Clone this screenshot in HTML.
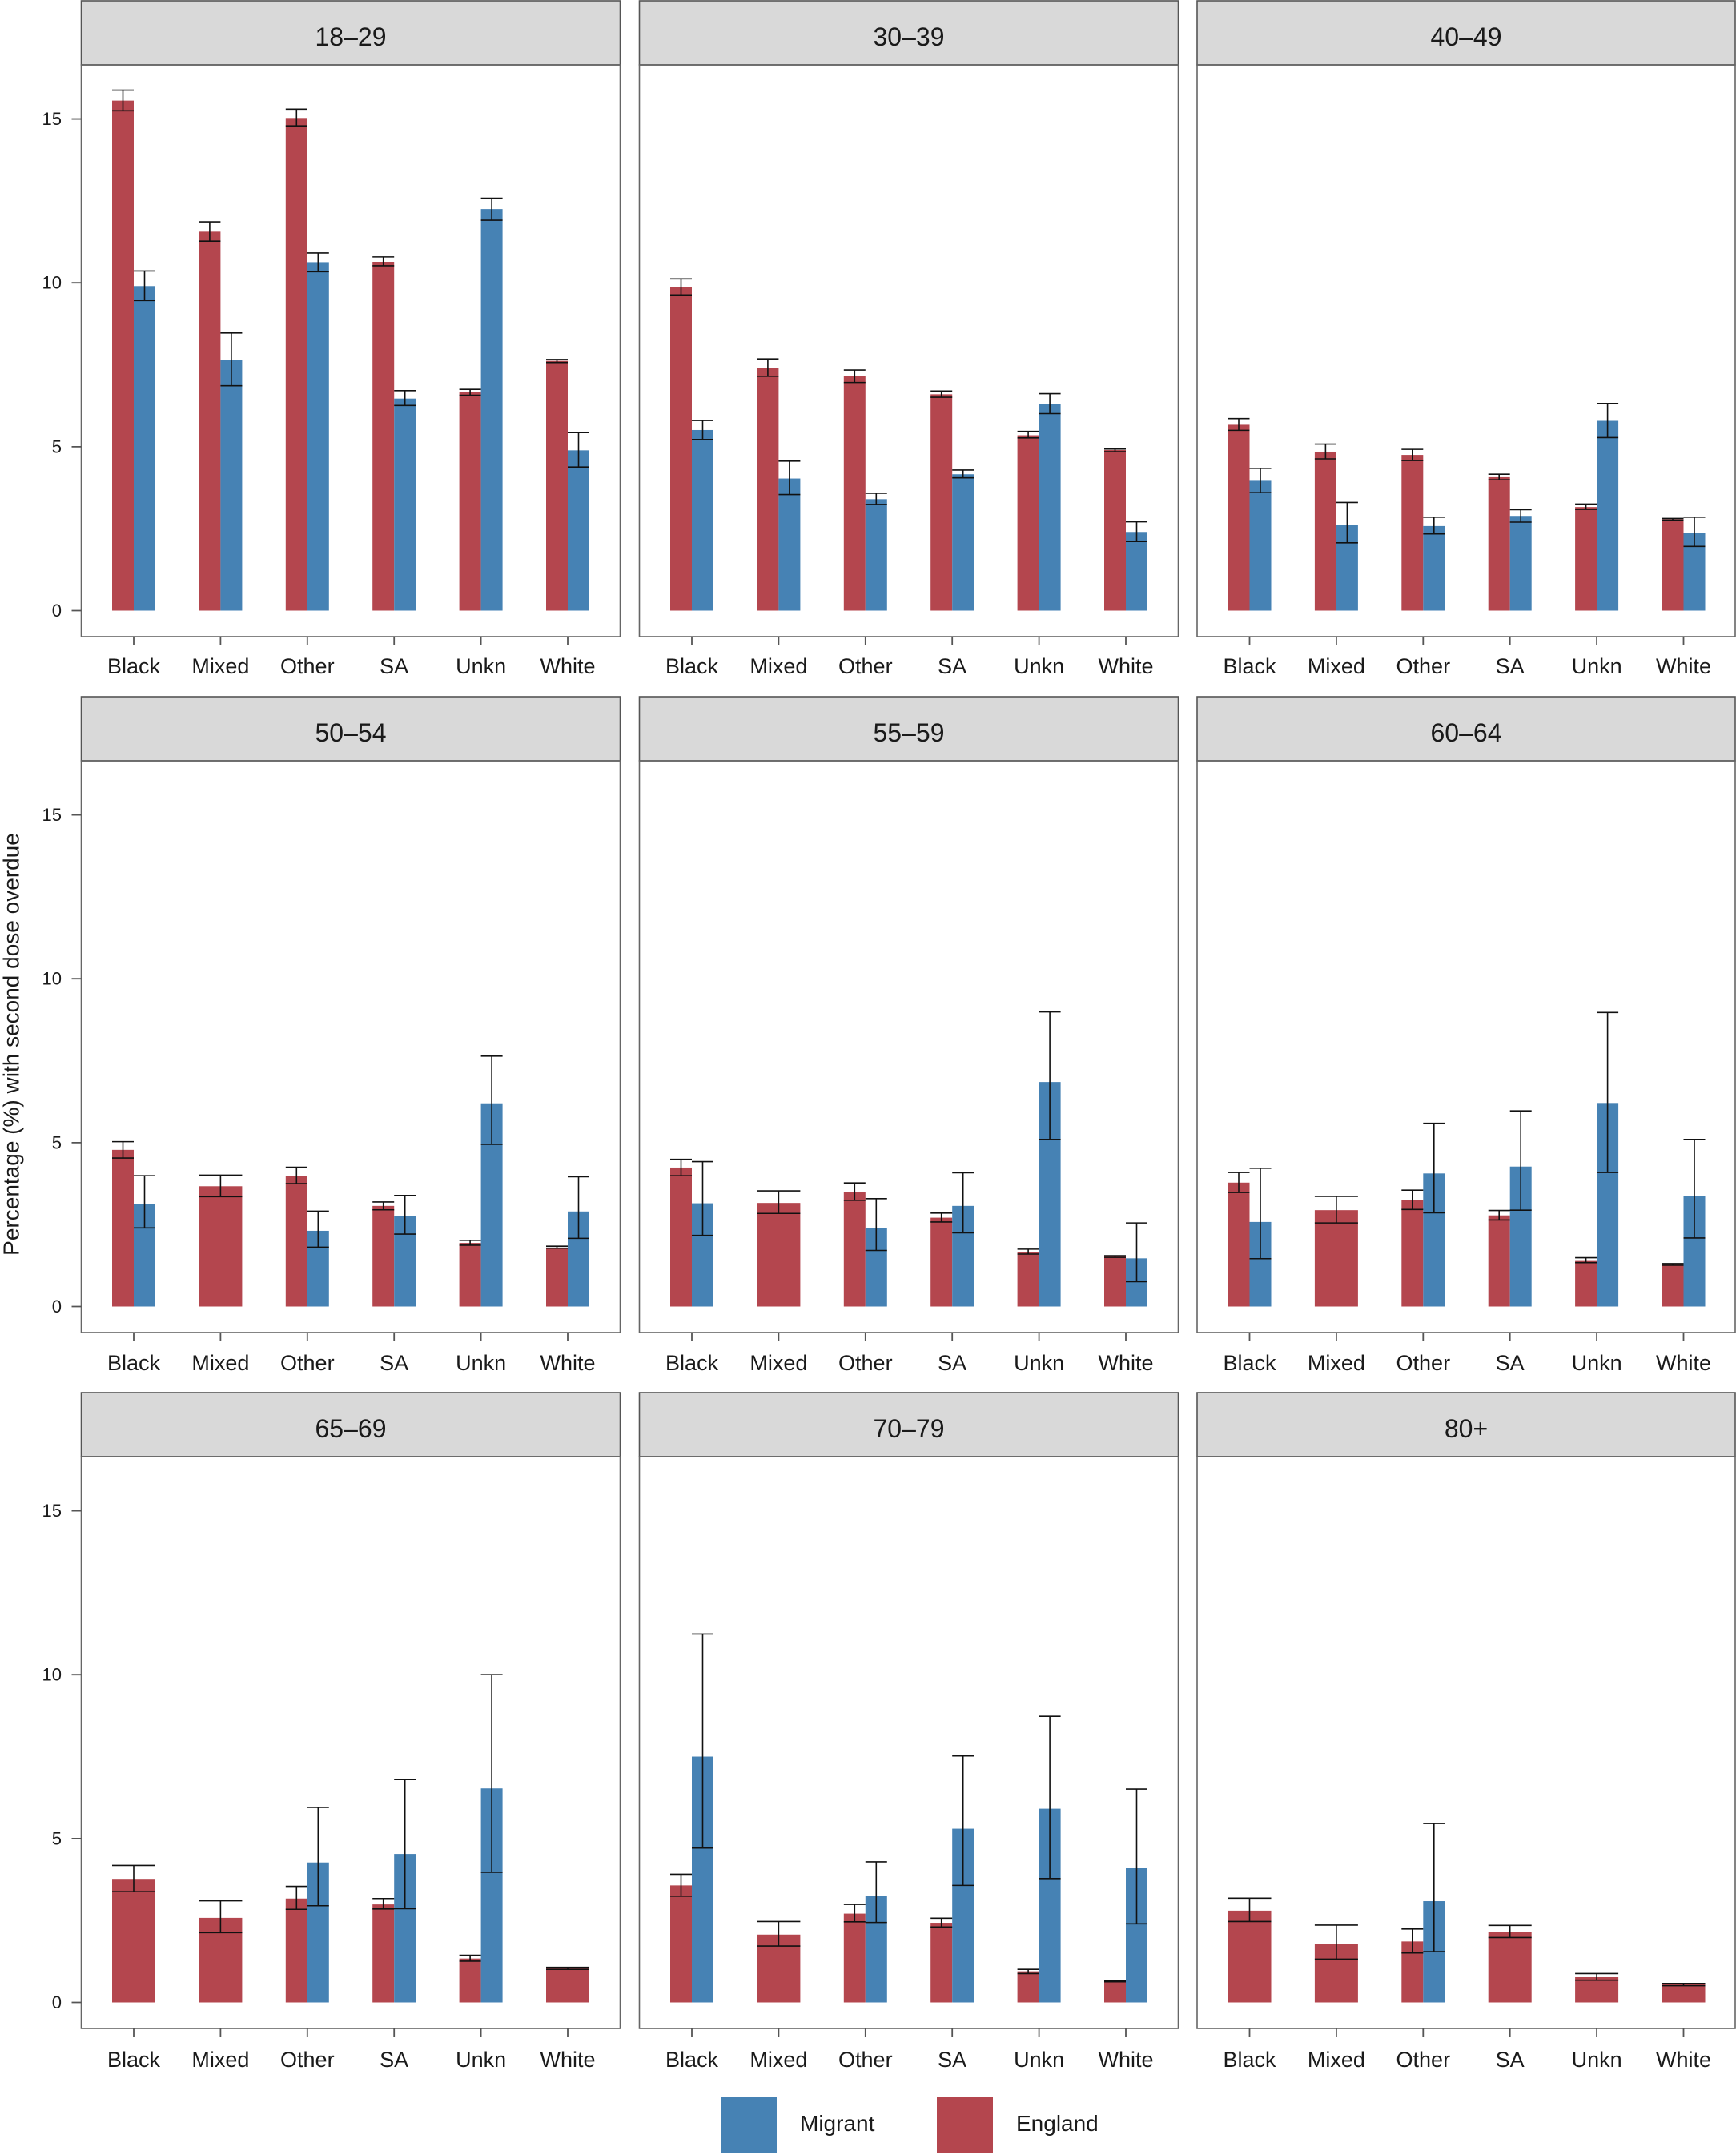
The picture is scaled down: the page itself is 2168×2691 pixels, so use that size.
<!DOCTYPE html>
<html><head><meta charset="utf-8"><style>
html,body{margin:0;padding:0;background:#fff;}
svg{display:block;}
.r{fill:#B4464E;}
.b{fill:#4682B4;}
.e{fill:none;stroke:#111;stroke-width:1.6;vector-effect:non-scaling-stroke;}
.fr{fill:none;stroke:#666;stroke-width:1.6;}
.st{fill:#D9D9D9;stroke:#555;stroke-width:1.6;}
.tk{stroke:#555;stroke-width:1.8;fill:none;}
text{font-family:"Liberation Sans",sans-serif;fill:#1a1a1a;}
.xl{font-size:27px;text-anchor:middle;}
.yl{font-size:22px;text-anchor:end;}
.sl{font-size:32px;text-anchor:middle;}
</style></head><body>
<svg width="2168" height="2691" viewBox="0 0 2168 2691" xmlns="http://www.w3.org/2000/svg">
<rect width="2168" height="2691" fill="#fff"/>

<!-- ===== Row 1 ===== -->
<!-- 18-29 -->
<rect class="st" x="101.5" y="1" width="673" height="80"/>
<text class="sl" x="438" y="57">18–29</text>
<rect class="fr" x="101.5" y="81" width="673" height="714"/>
<g transform="translate(101.5,762.5) scale(1,-40.93)">
<rect class="r" x="38.5" width="27" height="15.56"/>
<rect class="b" x="65.5" width="27" height="9.90"/>
<rect class="r" x="146.9" width="27" height="11.56"/>
<rect class="b" x="173.9" width="27" height="7.64"/>
<rect class="r" x="255.3" width="27" height="15.03"/>
<rect class="b" x="282.3" width="27" height="10.63"/>
<rect class="r" x="363.7" width="27" height="10.64"/>
<rect class="b" x="390.7" width="27" height="6.47"/>
<rect class="r" x="472.1" width="27" height="6.66"/>
<rect class="b" x="499.1" width="27" height="12.25"/>
<rect class="r" x="580.5" width="27" height="7.62"/>
<rect class="b" x="607.5" width="27" height="4.89"/>
<path class="e" d="M38.5 15.25h27M38.5 15.88h27M52 15.25V15.88M65.5 9.46h27M65.5 10.36h27M79 9.46V10.36M146.9 11.27h27M146.9 11.86h27M160.4 11.27V11.86M173.9 6.86h27M173.9 8.47h27M187.4 6.86V8.47M255.3 14.79h27M255.3 15.30h27M268.8 14.79V15.30M282.3 10.34h27M282.3 10.91h27M295.8 10.34V10.91M363.7 10.52h27M363.7 10.79h27M377.2 10.52V10.79M390.7 6.26h27M390.7 6.71h27M404.2 6.26V6.71M472.1 6.57h27M472.1 6.75h27M485.6 6.57V6.75M499.1 11.91h27M499.1 12.58h27M512.6 11.91V12.58M580.5 7.57h27M580.5 7.66h27M594 7.57V7.66M607.5 4.38h27M607.5 5.43h27M621 4.38V5.43"/>
</g>
<g transform="translate(101.5,795)">
<path class="tk" d="M65.5 0v11M173.9 0v11M282.3 0v11M390.7 0v11M499.1 0v11M607.5 0v11"/>
<text class="xl" x="65.5" y="46">Black</text><text class="xl" x="173.9" y="46">Mixed</text><text class="xl" x="282.3" y="46">Other</text><text class="xl" x="390.7" y="46">SA</text><text class="xl" x="499.1" y="46">Unkn</text><text class="xl" x="607.5" y="46">White</text>
</g>
<g transform="translate(0,762.5)">
<path class="tk" d="M89.5 0h12M89.5 -204.65h12M89.5 -409.3h12M89.5 -613.95h12"/>
<text class="yl" x="77" y="7.5">0</text><text class="yl" x="77" y="-197.2">5</text><text class="yl" x="77" y="-401.8">10</text><text class="yl" x="77" y="-606.5">15</text>
</g>

<!-- 30-39 -->
<rect class="st" x="798.5" y="1" width="673" height="80"/>
<text class="sl" x="1135" y="57">30–39</text>
<rect class="fr" x="798.5" y="81" width="673" height="714"/>
<g transform="translate(798.5,762.5) scale(1,-40.93)">
<rect class="r" x="38.5" width="27" height="9.88"/>
<rect class="b" x="65.5" width="27" height="5.51"/>
<rect class="r" x="146.9" width="27" height="7.41"/>
<rect class="b" x="173.9" width="27" height="4.03"/>
<rect class="r" x="255.3" width="27" height="7.15"/>
<rect class="b" x="282.3" width="27" height="3.40"/>
<rect class="r" x="363.7" width="27" height="6.60"/>
<rect class="b" x="390.7" width="27" height="4.16"/>
<rect class="r" x="472.1" width="27" height="5.35"/>
<rect class="b" x="499.1" width="27" height="6.31"/>
<rect class="r" x="580.5" width="27" height="4.90"/>
<rect class="b" x="607.5" width="27" height="2.40"/>
<path class="e" d="M38.5 9.63h27M38.5 10.12h27M52 9.63V10.12M65.5 5.22h27M65.5 5.80h27M79 5.22V5.80M146.9 7.15h27M146.9 7.68h27M160.4 7.15V7.68M173.9 3.54h27M173.9 4.56h27M187.4 3.54V4.56M255.3 6.96h27M255.3 7.34h27M268.8 6.96V7.34M282.3 3.24h27M282.3 3.58h27M295.8 3.24V3.58M363.7 6.51h27M363.7 6.70h27M377.2 6.51V6.70M390.7 4.05h27M390.7 4.29h27M404.2 4.05V4.29M472.1 5.27h27M472.1 5.47h27M485.6 5.27V5.47M499.1 6.01h27M499.1 6.62h27M512.6 6.01V6.62M580.5 4.85h27M580.5 4.93h27M594 4.85V4.93M607.5 2.11h27M607.5 2.71h27M621 2.11V2.71"/>
</g>
<g transform="translate(798.5,795)">
<path class="tk" d="M65.5 0v11M173.9 0v11M282.3 0v11M390.7 0v11M499.1 0v11M607.5 0v11"/>
<text class="xl" x="65.5" y="46">Black</text><text class="xl" x="173.9" y="46">Mixed</text><text class="xl" x="282.3" y="46">Other</text><text class="xl" x="390.7" y="46">SA</text><text class="xl" x="499.1" y="46">Unkn</text><text class="xl" x="607.5" y="46">White</text>
</g>

<!-- 40-49 -->
<rect class="st" x="1495" y="1" width="672" height="80"/>
<text class="sl" x="1831" y="57">40–49</text>
<rect class="fr" x="1495" y="81" width="672" height="714"/>
<g transform="translate(1495,762.5) scale(1,-40.93)">
<rect class="r" x="38.5" width="27" height="5.67"/>
<rect class="b" x="65.5" width="27" height="3.96"/>
<rect class="r" x="146.9" width="27" height="4.85"/>
<rect class="b" x="173.9" width="27" height="2.61"/>
<rect class="r" x="255.3" width="27" height="4.75"/>
<rect class="b" x="282.3" width="27" height="2.58"/>
<rect class="r" x="363.7" width="27" height="4.07"/>
<rect class="b" x="390.7" width="27" height="2.89"/>
<rect class="r" x="472.1" width="27" height="3.16"/>
<rect class="b" x="499.1" width="27" height="5.79"/>
<rect class="r" x="580.5" width="27" height="2.79"/>
<rect class="b" x="607.5" width="27" height="2.37"/>
<path class="e" d="M38.5 5.50h27M38.5 5.86h27M52 5.50V5.86M65.5 3.60h27M65.5 4.34h27M79 3.60V4.34M146.9 4.63h27M146.9 5.08h27M160.4 4.63V5.08M173.9 2.07h27M173.9 3.30h27M187.4 2.07V3.30M255.3 4.58h27M255.3 4.92h27M268.8 4.58V4.92M282.3 2.34h27M282.3 2.85h27M295.8 2.34V2.85M363.7 3.99h27M363.7 4.16h27M377.2 3.99V4.16M390.7 2.70h27M390.7 3.08h27M404.2 2.70V3.08M472.1 3.09h27M472.1 3.25h27M485.6 3.09V3.25M499.1 5.28h27M499.1 6.32h27M512.6 5.28V6.32M580.5 2.76h27M580.5 2.81h27M594 2.76V2.81M607.5 1.96h27M607.5 2.85h27M621 1.96V2.85"/>
</g>
<g transform="translate(1495,795)">
<path class="tk" d="M65.5 0v11M173.9 0v11M282.3 0v11M390.7 0v11M499.1 0v11M607.5 0v11"/>
<text class="xl" x="65.5" y="46">Black</text><text class="xl" x="173.9" y="46">Mixed</text><text class="xl" x="282.3" y="46">Other</text><text class="xl" x="390.7" y="46">SA</text><text class="xl" x="499.1" y="46">Unkn</text><text class="xl" x="607.5" y="46">White</text>
</g>

<!-- ===== Row 2 ===== -->
<!-- 50-54 -->
<rect class="st" x="101.5" y="870" width="673" height="80"/>
<text class="sl" x="438" y="926">50–54</text>
<rect class="fr" x="101.5" y="950" width="673" height="714"/>
<g transform="translate(101.5,1631.5) scale(1,-40.93)">
<rect class="r" x="38.5" width="27" height="4.78"/>
<rect class="b" x="65.5" width="27" height="3.13"/>
<rect class="r" x="146.9" width="54" height="3.67"/>
<rect class="r" x="255.3" width="27" height="3.99"/>
<rect class="b" x="282.3" width="27" height="2.31"/>
<rect class="r" x="363.7" width="27" height="3.07"/>
<rect class="b" x="390.7" width="27" height="2.75"/>
<rect class="r" x="472.1" width="27" height="1.94"/>
<rect class="b" x="499.1" width="27" height="6.20"/>
<rect class="r" x="580.5" width="27" height="1.79"/>
<rect class="b" x="607.5" width="27" height="2.90"/>
<path class="e" d="M38.5 4.53h27M38.5 5.03h27M52 4.53V5.03M65.5 2.40h27M65.5 3.99h27M79 2.40V3.99M146.9 3.35h54M146.9 4.01h54M173.9 3.35V4.01M255.3 3.75h27M255.3 4.25h27M268.8 3.75V4.25M282.3 1.81h27M282.3 2.91h27M295.8 1.81V2.91M363.7 2.95h27M363.7 3.19h27M377.2 2.95V3.19M390.7 2.21h27M390.7 3.39h27M404.2 2.21V3.39M472.1 1.87h27M472.1 2.02h27M485.6 1.87V2.02M499.1 4.95h27M499.1 7.64h27M512.6 4.95V7.64M580.5 1.78h27M580.5 1.84h27M594 1.78V1.84M607.5 2.08h27M607.5 3.96h27M621 2.08V3.96"/>
</g>
<g transform="translate(101.5,1664)">
<path class="tk" d="M65.5 0v11M173.9 0v11M282.3 0v11M390.7 0v11M499.1 0v11M607.5 0v11"/>
<text class="xl" x="65.5" y="47">Black</text><text class="xl" x="173.9" y="47">Mixed</text><text class="xl" x="282.3" y="47">Other</text><text class="xl" x="390.7" y="47">SA</text><text class="xl" x="499.1" y="47">Unkn</text><text class="xl" x="607.5" y="47">White</text>
</g>
<g transform="translate(0,1631.5)">
<path class="tk" d="M89.5 0h12M89.5 -204.65h12M89.5 -409.3h12M89.5 -613.95h12"/>
<text class="yl" x="77" y="7.5">0</text><text class="yl" x="77" y="-197.2">5</text><text class="yl" x="77" y="-401.8">10</text><text class="yl" x="77" y="-606.5">15</text>
</g>

<!-- 55-59 -->
<rect class="st" x="798.5" y="870" width="673" height="80"/>
<text class="sl" x="1135" y="926">55–59</text>
<rect class="fr" x="798.5" y="950" width="673" height="714"/>
<g transform="translate(798.5,1631.5) scale(1,-40.93)">
<rect class="r" x="38.5" width="27" height="4.24"/>
<rect class="b" x="65.5" width="27" height="3.15"/>
<rect class="r" x="146.9" width="54" height="3.16"/>
<rect class="r" x="255.3" width="27" height="3.49"/>
<rect class="b" x="282.3" width="27" height="2.40"/>
<rect class="r" x="363.7" width="27" height="2.71"/>
<rect class="b" x="390.7" width="27" height="3.07"/>
<rect class="r" x="472.1" width="27" height="1.67"/>
<rect class="b" x="499.1" width="27" height="6.85"/>
<rect class="r" x="580.5" width="27" height="1.54"/>
<rect class="b" x="607.5" width="27" height="1.47"/>
<path class="e" d="M38.5 3.99h27M38.5 4.49h27M52 3.99V4.49M65.5 2.17h27M65.5 4.42h27M79 2.17V4.42M146.9 2.84h54M146.9 3.53h54M173.9 2.84V3.53M255.3 3.24h27M255.3 3.77h27M268.8 3.24V3.77M282.3 1.71h27M282.3 3.29h27M295.8 1.71V3.29M363.7 2.58h27M363.7 2.85h27M377.2 2.58V2.85M390.7 2.25h27M390.7 4.08h27M404.2 2.25V4.08M472.1 1.60h27M472.1 1.75h27M485.6 1.60V1.75M499.1 5.10h27M499.1 8.99h27M512.6 5.10V8.99M580.5 1.50h27M580.5 1.55h27M594 1.50V1.55M607.5 0.76h27M607.5 2.55h27M621 0.76V2.55"/>
</g>
<g transform="translate(798.5,1664)">
<path class="tk" d="M65.5 0v11M173.9 0v11M282.3 0v11M390.7 0v11M499.1 0v11M607.5 0v11"/>
<text class="xl" x="65.5" y="47">Black</text><text class="xl" x="173.9" y="47">Mixed</text><text class="xl" x="282.3" y="47">Other</text><text class="xl" x="390.7" y="47">SA</text><text class="xl" x="499.1" y="47">Unkn</text><text class="xl" x="607.5" y="47">White</text>
</g>

<!-- 60-64 -->
<rect class="st" x="1495" y="870" width="672" height="80"/>
<text class="sl" x="1831" y="926">60–64</text>
<rect class="fr" x="1495" y="950" width="672" height="714"/>
<g transform="translate(1495,1631.5) scale(1,-40.93)">
<rect class="r" x="38.5" width="27" height="3.78"/>
<rect class="b" x="65.5" width="27" height="2.58"/>
<rect class="r" x="146.9" width="54" height="2.94"/>
<rect class="r" x="255.3" width="27" height="3.25"/>
<rect class="b" x="282.3" width="27" height="4.06"/>
<rect class="r" x="363.7" width="27" height="2.78"/>
<rect class="b" x="390.7" width="27" height="4.27"/>
<rect class="r" x="472.1" width="27" height="1.39"/>
<rect class="b" x="499.1" width="27" height="6.21"/>
<rect class="r" x="580.5" width="27" height="1.30"/>
<rect class="b" x="607.5" width="27" height="3.36"/>
<path class="e" d="M38.5 3.48h27M38.5 4.09h27M52 3.48V4.09M65.5 1.46h27M65.5 4.22h27M79 1.46V4.22M146.9 2.55h54M146.9 3.36h54M173.9 2.55V3.36M255.3 2.96h27M255.3 3.55h27M268.8 2.96V3.55M282.3 2.86h27M282.3 5.59h27M295.8 2.86V5.59M363.7 2.64h27M363.7 2.93h27M377.2 2.64V2.93M390.7 2.94h27M390.7 5.97h27M404.2 2.94V5.97M472.1 1.34h27M472.1 1.49h27M485.6 1.34V1.49M499.1 4.09h27M499.1 8.97h27M512.6 4.09V8.97M580.5 1.26h27M580.5 1.31h27M594 1.26V1.31M607.5 2.09h27M607.5 5.10h27M621 2.09V5.10"/>
</g>
<g transform="translate(1495,1664)">
<path class="tk" d="M65.5 0v11M173.9 0v11M282.3 0v11M390.7 0v11M499.1 0v11M607.5 0v11"/>
<text class="xl" x="65.5" y="47">Black</text><text class="xl" x="173.9" y="47">Mixed</text><text class="xl" x="282.3" y="47">Other</text><text class="xl" x="390.7" y="47">SA</text><text class="xl" x="499.1" y="47">Unkn</text><text class="xl" x="607.5" y="47">White</text>
</g>

<!-- ===== Row 3 ===== -->
<!-- 65-69 -->
<rect class="st" x="101.5" y="1739" width="673" height="80"/>
<text class="sl" x="438" y="1795">65–69</text>
<rect class="fr" x="101.5" y="1819" width="673" height="714"/>
<g transform="translate(101.5,2500.5) scale(1,-40.93)">
<rect class="r" x="38.5" width="54" height="3.77"/>
<rect class="r" x="146.9" width="54" height="2.58"/>
<rect class="r" x="255.3" width="27" height="3.17"/>
<rect class="b" x="282.3" width="27" height="4.27"/>
<rect class="r" x="363.7" width="27" height="2.99"/>
<rect class="b" x="390.7" width="27" height="4.53"/>
<rect class="r" x="472.1" width="27" height="1.34"/>
<rect class="b" x="499.1" width="27" height="6.53"/>
<rect class="r" x="580.5" width="54" height="1.06"/>
<path class="e" d="M38.5 3.38h54M38.5 4.18h54M65.5 3.38V4.18M146.9 2.13h54M146.9 3.10h54M173.9 2.13V3.10M255.3 2.84h27M255.3 3.54h27M268.8 2.84V3.54M282.3 2.95h27M282.3 5.95h27M295.8 2.95V5.95M363.7 2.85h27M363.7 3.17h27M377.2 2.85V3.17M390.7 2.86h27M390.7 6.80h27M404.2 2.86V6.80M472.1 1.26h27M472.1 1.44h27M485.6 1.26V1.44M499.1 3.97h27M499.1 10.00h27M512.6 3.97V10.00M580.5 1.01h54M580.5 1.07h54M607.5 1.01V1.07"/>
</g>
<g transform="translate(101.5,2533)">
<path class="tk" d="M65.5 0v11M173.9 0v11M282.3 0v11M390.7 0v11M499.1 0v11M607.5 0v11"/>
<text class="xl" x="65.5" y="48">Black</text><text class="xl" x="173.9" y="48">Mixed</text><text class="xl" x="282.3" y="48">Other</text><text class="xl" x="390.7" y="48">SA</text><text class="xl" x="499.1" y="48">Unkn</text><text class="xl" x="607.5" y="48">White</text>
</g>
<g transform="translate(0,2500.5)">
<path class="tk" d="M89.5 0h12M89.5 -204.65h12M89.5 -409.3h12M89.5 -613.95h12"/>
<text class="yl" x="77" y="7.5">0</text><text class="yl" x="77" y="-197.2">5</text><text class="yl" x="77" y="-401.8">10</text><text class="yl" x="77" y="-606.5">15</text>
</g>

<!-- 70-79 -->
<rect class="st" x="798.5" y="1739" width="673" height="80"/>
<text class="sl" x="1135" y="1795">70–79</text>
<rect class="fr" x="798.5" y="1819" width="673" height="714"/>
<g transform="translate(798.5,2500.5) scale(1,-40.93)">
<rect class="r" x="38.5" width="27" height="3.57"/>
<rect class="b" x="65.5" width="27" height="7.50"/>
<rect class="r" x="146.9" width="54" height="2.07"/>
<rect class="r" x="255.3" width="27" height="2.71"/>
<rect class="b" x="282.3" width="27" height="3.26"/>
<rect class="r" x="363.7" width="27" height="2.43"/>
<rect class="b" x="390.7" width="27" height="5.30"/>
<rect class="r" x="472.1" width="27" height="0.95"/>
<rect class="b" x="499.1" width="27" height="5.91"/>
<rect class="r" x="580.5" width="27" height="0.66"/>
<rect class="b" x="607.5" width="27" height="4.11"/>
<path class="e" d="M38.5 3.24h27M38.5 3.91h27M52 3.24V3.91M65.5 4.71h27M65.5 11.24h27M79 4.71V11.24M146.9 1.72h54M146.9 2.47h54M173.9 1.72V2.47M255.3 2.46h27M255.3 2.99h27M268.8 2.46V2.99M282.3 2.44h27M282.3 4.29h27M295.8 2.44V4.29M363.7 2.30h27M363.7 2.57h27M377.2 2.30V2.57M390.7 3.57h27M390.7 7.52h27M404.2 3.57V7.52M472.1 0.88h27M472.1 1.01h27M485.6 0.88V1.01M499.1 3.78h27M499.1 8.73h27M512.6 3.78V8.73M580.5 0.63h27M580.5 0.67h27M594 0.63V0.67M607.5 2.40h27M607.5 6.51h27M621 2.40V6.51"/>
</g>
<g transform="translate(798.5,2533)">
<path class="tk" d="M65.5 0v11M173.9 0v11M282.3 0v11M390.7 0v11M499.1 0v11M607.5 0v11"/>
<text class="xl" x="65.5" y="48">Black</text><text class="xl" x="173.9" y="48">Mixed</text><text class="xl" x="282.3" y="48">Other</text><text class="xl" x="390.7" y="48">SA</text><text class="xl" x="499.1" y="48">Unkn</text><text class="xl" x="607.5" y="48">White</text>
</g>

<!-- 80+ -->
<rect class="st" x="1495" y="1739" width="672" height="80"/>
<text class="sl" x="1831" y="1795">80+</text>
<rect class="fr" x="1495" y="1819" width="672" height="714"/>
<g transform="translate(1495,2500.5) scale(1,-40.93)">
<rect class="r" x="38.5" width="54" height="2.80"/>
<rect class="r" x="146.9" width="54" height="1.78"/>
<rect class="r" x="255.3" width="27" height="1.86"/>
<rect class="b" x="282.3" width="27" height="3.09"/>
<rect class="r" x="363.7" width="54" height="2.16"/>
<rect class="r" x="472.1" width="54" height="0.77"/>
<rect class="r" x="580.5" width="54" height="0.57"/>
<path class="e" d="M38.5 2.47h54M38.5 3.18h54M65.5 2.47V3.18M146.9 1.32h54M146.9 2.36h54M173.9 1.32V2.36M255.3 1.51h27M255.3 2.24h27M268.8 1.51V2.24M282.3 1.55h27M282.3 5.46h27M295.8 1.55V5.46M363.7 1.98h54M363.7 2.35h54M390.7 1.98V2.35M472.1 0.68h54M472.1 0.88h54M499.1 0.68V0.88M580.5 0.51h54M580.5 0.58h54M607.5 0.51V0.58"/>
</g>
<g transform="translate(1495,2533)">
<path class="tk" d="M65.5 0v11M173.9 0v11M282.3 0v11M390.7 0v11M499.1 0v11M607.5 0v11"/>
<text class="xl" x="65.5" y="48">Black</text><text class="xl" x="173.9" y="48">Mixed</text><text class="xl" x="282.3" y="48">Other</text><text class="xl" x="390.7" y="48">SA</text><text class="xl" x="499.1" y="48">Unkn</text><text class="xl" x="607.5" y="48">White</text>
</g>

<!-- Y axis title -->
<text x="23.5" y="1304" transform="rotate(-90 23.5 1304)" style="font-size:28px;text-anchor:middle;dominant-baseline:alphabetic;">Percentage (%) with second dose overdue</text>

<!-- Legend -->
<rect class="b" x="900" y="2618" width="70" height="70"/>
<text x="999" y="2661" style="font-size:28px;">Migrant</text>
<rect class="r" x="1170" y="2618" width="70" height="70"/>
<text x="1269" y="2661" style="font-size:28px;">England</text>
</svg>
</body></html>
